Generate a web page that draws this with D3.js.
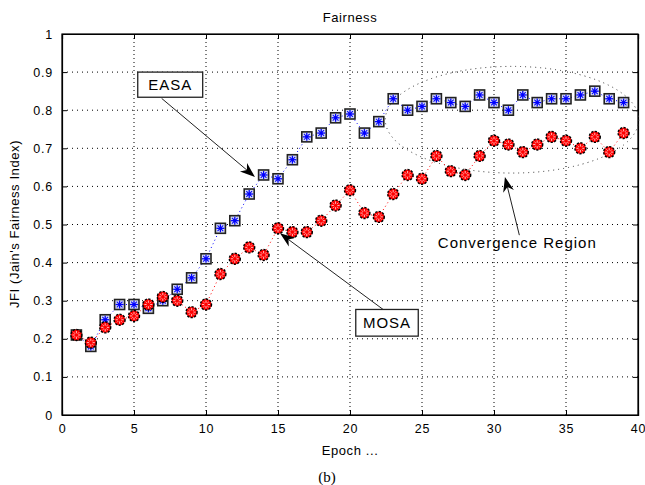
<!DOCTYPE html>
<html><head><meta charset="utf-8">
<script src="https://cdn.jsdelivr.net/npm/d3@7"></script>
<style>
html,body{margin:0;padding:0;background:#fff;}
text{font-family:"Liberation Sans",Arial,sans-serif;fill:#000;}
</style></head>
<body><svg id="c" width="645" height="485"></svg>
<script>
const epochs = d3.range(1, 40);
const easa = [0.21,0.18,0.25,0.29,0.29,0.28,0.30,0.33,0.36,0.41,0.49,0.51,0.58,0.63,0.62,0.67,0.73,0.74,0.78,0.79,0.74,0.77,0.83,0.80,0.81,0.83,0.82,0.81,0.84,0.82,0.80,0.84,0.82,0.83,0.83,0.84,0.85,0.83,0.82];
const mosa = [0.21,0.19,0.23,0.25,0.26,0.29,0.31,0.30,0.27,0.29,0.37,0.41,0.44,0.42,0.49,0.48,0.48,0.51,0.55,0.59,0.53,0.52,0.58,0.63,0.62,0.68,0.64,0.63,0.68,0.72,0.71,0.69,0.71,0.73,0.72,0.70,0.73,0.69,0.74];
const xTicks = [0,5,10,15,20,25,30,35,40];
const yTicks = [0,0.1,0.2,0.3,0.4,0.5,0.6,0.7,0.8,0.9,1];
const yTickLabels = ["0","0.1","0.2","0.3","0.4","0.5","0.6","0.7","0.8","0.9","1"];

const svg = d3.select("#c");
const L = 62, R = 638, T = 34, B = 415;
const x = d3.scaleLinear().domain([0,40]).range([L,R]);
const y = d3.scaleLinear().domain([0,1]).range([B,T]);

svg.append("rect").attr("width",645).attr("height",485).attr("fill","#fff");

// grid
const g = svg.append("g");
g.selectAll(".gx").data(xTicks.slice(1,-1)).enter().append("line")
  .attr("x1",d=>x(d)).attr("x2",d=>x(d)).attr("y1",T).attr("y2",B)
  .attr("stroke","#000").attr("stroke-width",1).attr("stroke-dasharray","1,3");
g.selectAll(".gy").data(yTicks.slice(1,-1)).enter().append("line")
  .attr("y1",d=>y(d)).attr("y2",d=>y(d)).attr("x1",L).attr("x2",R)
  .attr("stroke","#000").attr("stroke-width",1).attr("stroke-dasharray","1,4");

// axes with inner ticks
const ax = svg.append("g").attr("transform",`translate(0,${B})`)
  .call(d3.axisBottom(x).tickValues(xTicks).tickSize(-5).tickPadding(9).tickFormat(d3.format("d")));
const axT = svg.append("g").attr("transform",`translate(0,${T})`)
  .call(d3.axisTop(x).tickValues(xTicks).tickSize(-5).tickFormat(""));
const ay = svg.append("g").attr("transform",`translate(${L},0)`)
  .call(d3.axisLeft(y).tickValues(yTicks).tickSize(-5).tickPadding(9).tickFormat((d,i)=>yTickLabels[i]));
const ayR = svg.append("g").attr("transform",`translate(${R},0)`)
  .call(d3.axisRight(y).tickValues(yTicks).tickSize(-5).tickFormat(""));
[ax,axT,ay,ayR].forEach(a=>{
  a.select(".domain").attr("stroke","#000").attr("stroke-width",1.2);
  a.selectAll(".tick line").attr("stroke","#000");
  a.selectAll("text").style("font-family","'Liberation Sans',Arial,sans-serif").style("font-size","12.5px").attr("fill","#111").style("letter-spacing","0.8px");
});
svg.append("rect").attr("x",L).attr("y",T).attr("width",R-L).attr("height",B-T)
  .attr("fill","none").attr("stroke","#000").attr("stroke-width",1.2);

// title and labels
svg.append("text").attr("x",350).attr("y",22).attr("text-anchor","middle")
  .style("font-size","13px").style("letter-spacing","0.6px").text("Fairness");
svg.append("text").attr("x",350).attr("y",455).attr("text-anchor","middle")
  .style("font-size","13px").style("letter-spacing","0.6px").text("Epoch ...");
svg.append("text").attr("transform","translate(19,224) rotate(-90)").attr("text-anchor","middle")
  .style("font-size","13px").style("letter-spacing","0.6px").text("JFI (Jain's Fairness Index)");
svg.append("text").attr("x",327).attr("y",482).attr("text-anchor","middle")
  .style("font-family","'Liberation Serif','Times New Roman',serif").style("font-size","15px").text("(b)");

// ellipse (convergence region), in data units
const ell = {cx:31.25, cy:0.775, rx:8.8, ry:0.14};
svg.append("ellipse").attr("cx",x(ell.cx)).attr("cy",y(ell.cy))
  .attr("rx",x(ell.cx+ell.rx)-x(ell.cx)).attr("ry",y(ell.cy-ell.ry)-y(ell.cy))
  .attr("fill","none").attr("stroke","#333").attr("stroke-width",1).attr("stroke-dasharray","1,4");

// series lines
const line = d3.line().x((d,i)=>x(epochs[i])).y(d=>y(d));
svg.append("path").datum(easa).attr("d",line).attr("fill","none").attr("stroke","#0000ff").attr("stroke-width",1).attr("stroke-dasharray","1,3");
svg.append("path").datum(mosa).attr("d",line).attr("fill","none").attr("stroke","#ff0000").attr("stroke-width",1).attr("stroke-dasharray","1,3");

function star(sel, r, color, w){
  const a = r*0.72;
  sel.append("line").attr("x1",-r).attr("x2",r).attr("y1",0).attr("y2",0).attr("stroke",color).attr("stroke-width",w);
  sel.append("line").attr("y1",-r).attr("y2",r).attr("x1",0).attr("x2",0).attr("stroke",color).attr("stroke-width",w);
  sel.append("line").attr("x1",-a).attr("x2",a).attr("y1",-a).attr("y2",a).attr("stroke",color).attr("stroke-width",w*0.8);
  sel.append("line").attr("x1",-a).attr("x2",a).attr("y1",a).attr("y2",-a).attr("stroke",color).attr("stroke-width",w*0.8);
}
// EASA markers
const em = svg.append("g").selectAll("g").data(easa).enter().append("g")
  .attr("transform",(d,i)=>`translate(${x(epochs[i])},${y(d)})`);
em.append("rect").attr("x",-5).attr("y",-5).attr("width",10).attr("height",10)
  .attr("fill","#d8dcf0").attr("stroke","#222").attr("stroke-width",1.6);
em.each(function(){ star(d3.select(this),4,"#0000ff",1.3); });
em.append("circle").attr("r",1.6).attr("fill","#0000ff");

// MOSA markers
const mm = svg.append("g").selectAll("g").data(mosa).enter().append("g")
  .attr("transform",(d,i)=>`translate(${x(epochs[i])},${y(d)})`);
mm.append("circle").attr("r",5.5).attr("fill","#ff0000").attr("stroke","#000").attr("stroke-width",1.4).attr("stroke-dasharray","2.2,1.4");
mm.each(function(){ star(d3.select(this),4,"#ffb8b8",1); });
mm.append("circle").attr("r",1.8).attr("fill","#ff0000");

// annotations
function arrow(x0,y0,x1,y1){
  const dx=x1-x0, dy=y1-y0, len=Math.hypot(dx,dy), ux=dx/len, uy=dy/len, nx=-uy, ny=ux;
  const Lh=15, W=5.5;
  const bx=x1-Lh*ux, by=y1-Lh*uy, mx=x1-0.7*Lh*ux, my=y1-0.7*Lh*uy;
  svg.append("line").attr("x1",x0).attr("y1",y0).attr("x2",mx).attr("y2",my).attr("stroke","#222").attr("stroke-width",1);
  svg.append("path").attr("d",`M${x1},${y1}L${bx+W*nx},${by+W*ny}L${mx},${my}L${bx-W*nx},${by-W*ny}Z`).attr("fill","#000");
}
function box(x0,y0,x1,y1,label){
  svg.append("rect").attr("x",x(x0)).attr("y",y(y0)).attr("width",x(x1)-x(x0)).attr("height",y(y1)-y(y0))
    .attr("fill","#fff").attr("stroke","#222").attr("stroke-width",1.3);
  svg.append("text").attr("x",(x(x0)+x(x1))/2).attr("y",(y(y0)+y(y1))/2+5.5).attr("text-anchor","middle")
    .style("font-size","15px").style("letter-spacing","1px").attr("fill","#222").text(label);
}
arrow(x(6.92),y(0.831),x(13.4),y(0.625));
box(5.26,0.9,9.77,0.834,"EASA");
arrow(x(22.3),y(0.277),x(15.14),y(0.477));
box(20.4,0.277,24.74,0.207,"MOSA");
arrow(x(31.76),y(0.472),x(30.76),y(0.625));
svg.append("text").attr("x",x(26.1)).attr("y",y(0.438))
  .style("font-size","15px").style("letter-spacing","1px").attr("fill","#222").text("Convergence Region");
</script></body></html>
